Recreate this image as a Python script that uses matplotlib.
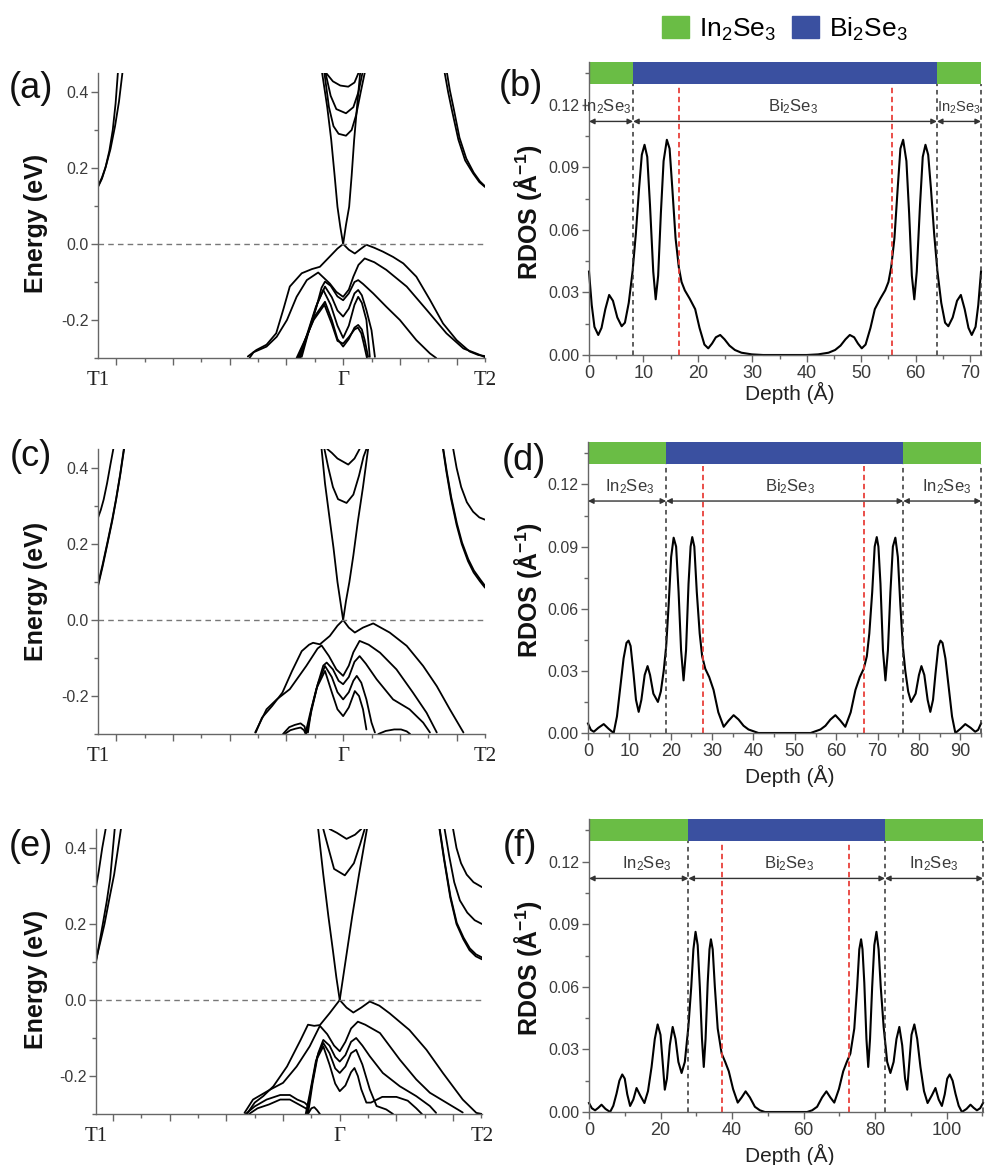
import matplotlib
matplotlib.use('Agg')
import matplotlib.pyplot as plt
from matplotlib.patches import Patch
from matplotlib.ticker import MultipleLocator, FormatStrFormatter
import matplotlib.transforms as mtransforms

plt.rcParams['font.family'] = ['Liberation Sans', 'DejaVu Sans']
plt.rcParams['mathtext.fontset'] = 'custom'
plt.rcParams['mathtext.rm'] = 'Liberation Sans'
plt.rcParams['mathtext.it'] = 'Liberation Sans:italic'
plt.rcParams['mathtext.bf'] = 'Liberation Sans:bold'
plt.rcParams['axes.unicode_minus'] = False

# ------------------------------------------------------------------ DATA
# k-path end points (Gamma = 0)
K_T1 = [-4.32, -4.32, -4.30]
K_T2 = [2.50, 2.50, 2.51]
K_LABELS = ['T1', 'Γ', 'T2']

# band structure (a): list of (k, E) polylines
BANDS_A = [
    ([-4.32, -4.25, -4.19, -4.12, -4.06, -4.01, -3.97], [0.150, 0.172, 0.200, 0.245, 0.300, 0.370, 0.450]),
    ([-4.32, -4.25, -4.18, -4.10, -4.02, -3.95, -3.89], [0.152, 0.175, 0.205, 0.250, 0.310, 0.375, 0.450]),
    ([1.79, 1.85, 1.92, 2.03, 2.15, 2.29, 2.40, 2.50], [0.450, 0.400, 0.350, 0.275, 0.220, 0.186, 0.163, 0.150]),
    ([1.83, 1.88, 1.95, 2.05, 2.17, 2.30, 2.41, 2.50], [0.450, 0.405, 0.355, 0.280, 0.225, 0.188, 0.165, 0.152]),
    ([0.0, -0.05, -0.10, -0.15, -0.21, -0.28, -0.37], [0.0, 0.045, 0.098, 0.18, 0.274, 0.36, 0.45]),
    ([0.0, 0.05, 0.106, 0.15, 0.194, 0.25, 0.30], [0.0, 0.05, 0.098, 0.18, 0.274, 0.37, 0.45]),
    ([-0.33, -0.25, -0.17, -0.08, 0.05, 0.15, 0.23, 0.31, 0.38], [0.45, 0.36, 0.31, 0.29, 0.285, 0.30, 0.34, 0.40, 0.45]),
    ([-0.31, -0.22, -0.12, 0.05, 0.18, 0.27, 0.34], [0.45, 0.39, 0.355, 0.344, 0.36, 0.40, 0.45]),
    ([-0.30, -0.18, -0.05, 0.09, 0.20, 0.27], [0.45, 0.428, 0.417, 0.414, 0.425, 0.45]),
    ([-1.68, -1.53, -1.35, -1.18, -1.05, -0.94, -0.73, -0.55, -0.41, -0.235, -0.10, 0.0, 0.10, 0.206, 0.30, 0.41,
      0.55, 0.70, 0.88, 1.06, 1.29, 1.53, 1.76, 2.0, 2.23, 2.38, 2.5],
     [-0.296, -0.279, -0.265, -0.235, -0.17, -0.112, -0.077, -0.066, -0.060, -0.033, -0.012, 0.0, -0.015, -0.025,
      -0.014, -0.002, -0.010, -0.020, -0.034, -0.051, -0.086, -0.147, -0.209, -0.253, -0.283, -0.292, -0.295]),
    ([-1.65, -1.58, -1.35, -1.17, -0.99, -0.82, -0.64, -0.44, -0.235, -0.12, 0.0, 0.10, 0.18, 0.27, 0.38, 0.55,
      0.76, 1.12, 1.47, 1.82, 2.12, 2.38, 2.5],
     [-0.30, -0.285, -0.270, -0.244, -0.20, -0.139, -0.095, -0.075, -0.104, -0.126, -0.139, -0.12, -0.086, -0.055,
      -0.038, -0.048, -0.068, -0.112, -0.173, -0.235, -0.275, -0.29, -0.298]),
    ([-0.73, -0.62, -0.47, -0.38, -0.32, -0.22, -0.10, 0.0, 0.10, 0.20, 0.265, 0.35, 0.53, 0.76, 1.0, 1.29, 1.53, 1.64],
     [-0.297, -0.237, -0.165, -0.115, -0.099, -0.11, -0.138, -0.148, -0.13, -0.10, -0.095, -0.105, -0.13, -0.165,
      -0.2, -0.253, -0.288, -0.30]),
    ([-0.76, -0.62, -0.45, -0.32, -0.2, -0.1, 0.0, 0.1, 0.2, 0.265, 0.33, 0.41, 0.5, 0.56],
     [-0.30, -0.235, -0.155, -0.112, -0.14, -0.175, -0.191, -0.17, -0.13, -0.121, -0.135, -0.174, -0.227, -0.297]),
    ([-0.78, -0.64, -0.48, -0.35, -0.22, -0.1, 0.0, 0.1, 0.2, 0.265, 0.33, 0.41, 0.47],
     [-0.30, -0.24, -0.165, -0.121, -0.16, -0.215, -0.247, -0.215, -0.16, -0.139, -0.155, -0.2, -0.297]),
    ([-0.80, -0.66, -0.50, -0.32, -0.2, -0.1, 0.0, 0.1, 0.2, 0.265, 0.33, 0.38, 0.44],
     [-0.30, -0.25, -0.19, -0.152, -0.2, -0.25, -0.27, -0.25, -0.22, -0.213, -0.225, -0.253, -0.297]),
    ([-0.82, -0.68, -0.52, -0.33, -0.2, -0.1, 0.0, 0.1, 0.2, 0.26, 0.32, 0.36, 0.42],
     [-0.30, -0.255, -0.2, -0.16, -0.21, -0.255, -0.262, -0.245, -0.225, -0.22, -0.235, -0.26, -0.30]),
]

# band structure (c)
BANDS_C = [
    ([-4.32, -4.27, -4.22, -4.16, -4.10, -4.05], [0.269, 0.29, 0.317, 0.36, 0.41, 0.45]),
    ([-4.32, -4.24, -4.15, -4.07, -4.0, -3.93, -3.86], [0.089, 0.14, 0.203, 0.26, 0.317, 0.38, 0.45]),
    ([-4.32, -4.24, -4.15, -4.07, -4.0, -3.93, -3.865], [0.094, 0.145, 0.207, 0.264, 0.32, 0.383, 0.45]),
    ([1.76, 1.82, 1.90, 2.0, 2.09, 2.2, 2.3, 2.41, 2.5], [0.45, 0.39, 0.32, 0.25, 0.20, 0.155, 0.125, 0.102, 0.085]),
    ([1.765, 1.825, 1.905, 2.005, 2.095, 2.205, 2.305, 2.415, 2.5], [0.45, 0.392, 0.323, 0.254, 0.204, 0.16, 0.13, 0.107, 0.090]),
    ([1.94, 2.0, 2.08, 2.18, 2.29, 2.40, 2.50], [0.45, 0.40, 0.35, 0.31, 0.285, 0.27, 0.264]),
    ([0.0, -0.05, -0.10, -0.17, -0.25, -0.32, -0.38], [0.0, 0.05, 0.10, 0.19, 0.28, 0.36, 0.45]),
    ([0.0, 0.05, 0.11, 0.18, 0.26, 0.35, 0.44], [0.0, 0.05, 0.10, 0.17, 0.26, 0.35, 0.45]),
    ([-0.33, -0.26, -0.18, -0.09, 0.06, 0.18, 0.28, 0.36, 0.41], [0.45, 0.40, 0.35, 0.318, 0.308, 0.33, 0.38, 0.43, 0.45]),
    ([-0.28, -0.2, -0.1, 0.09, 0.2, 0.29], [0.45, 0.44, 0.425, 0.409, 0.425, 0.45]),
    ([-1.54, -1.43, -1.25, -1.07, -0.9, -0.73, -0.60, -0.53, -0.41, -0.235, -0.1, 0.0, 0.1, 0.206, 0.35, 0.53, 0.82,
      1.12, 1.41, 1.65, 1.88, 2.12],
     [-0.296, -0.257, -0.226, -0.191, -0.134, -0.082, -0.065, -0.06, -0.064, -0.042, -0.015, 0.0, -0.02, -0.033,
      -0.02, -0.009, -0.033, -0.068, -0.121, -0.174, -0.235, -0.296]),
    ([-1.55, -1.35, -1.17, -0.94, -0.65, -0.45, -0.38, -0.25, -0.12, 0.0, 0.1, 0.18, 0.29, 0.45, 0.65, 0.94, 1.23,
      1.47, 1.65],
     [-0.296, -0.235, -0.209, -0.182, -0.121, -0.075, -0.067, -0.095, -0.13, -0.147, -0.12, -0.085, -0.055, -0.065,
      -0.086, -0.13, -0.191, -0.244, -0.296]),
    ([-0.62, -0.56, -0.44, -0.35, -0.29, -0.18, -0.08, 0.0, 0.1, 0.2, 0.29, 0.40, 0.59, 0.88, 1.17, 1.41, 1.53],
     [-0.296, -0.235, -0.165, -0.12, -0.112, -0.13, -0.16, -0.169, -0.15, -0.11, -0.095, -0.115, -0.156, -0.209,
      -0.235, -0.27, -0.296]),
    ([-0.64, -0.56, -0.45, -0.32, -0.2, -0.1, 0.0, 0.1, 0.18, 0.24, 0.32, 0.41, 0.5, 0.56],
     [-0.296, -0.24, -0.17, -0.121, -0.15, -0.19, -0.209, -0.19, -0.16, -0.147, -0.165, -0.209, -0.27, -0.296]),
    ([-0.66, -0.58, -0.47, -0.32, -0.2, -0.1, 0.0, 0.1, 0.206, 0.28, 0.35, 0.41],
     [-0.296, -0.245, -0.18, -0.134, -0.19, -0.235, -0.253, -0.23, -0.187, -0.2, -0.235, -0.288]),
    ([-1.06, -0.95, -0.85, -0.75, -0.68, -0.65], [-0.30, -0.282, -0.276, -0.272, -0.28, -0.30]),
    ([-1.03, -0.93, -0.84, -0.75, -0.69, -0.66], [-0.30, -0.29, -0.286, -0.283, -0.29, -0.30]),
    ([0.62, 0.75, 0.9, 1.02, 1.12, 1.18], [-0.30, -0.292, -0.288, -0.288, -0.293, -0.30]),
]

# band structure (e)
BANDS_E = [
    ([-4.30, -4.25, -4.19, -4.13], [0.297, 0.34, 0.40, 0.45]),
    ([-4.30, -4.24, -4.18, -4.11, -4.05, -3.97], [0.10, 0.15, 0.20, 0.26, 0.32, 0.45]),
    ([-4.30, -4.22, -4.15, -4.06, -3.98, -3.92, -3.86], [0.105, 0.155, 0.20, 0.27, 0.33, 0.39, 0.45]),
    ([2.0, 2.06, 2.14, 2.24, 2.36, 2.51], [0.45, 0.40, 0.36, 0.33, 0.31, 0.297]),
    ([1.85, 1.93, 2.02, 2.12, 2.25, 2.38, 2.51], [0.45, 0.38, 0.31, 0.262, 0.23, 0.21, 0.20]),
    ([1.76, 1.84, 1.95, 2.06, 2.18, 2.29, 2.40, 2.51], [0.45, 0.37, 0.27, 0.20, 0.16, 0.131, 0.115, 0.107]),
    ([1.765, 1.845, 1.955, 2.065, 2.185, 2.295, 2.405, 2.51], [0.45, 0.37, 0.272, 0.203, 0.164, 0.136, 0.120, 0.112]),
    ([0.0, -0.06, -0.12, -0.2, -0.29, -0.38], [0.0, 0.06, 0.13, 0.22, 0.33, 0.45]),
    ([0.0, 0.06, 0.13, 0.22, 0.34, 0.48], [0.0, 0.06, 0.13, 0.22, 0.33, 0.45]),
    ([-0.29, -0.2, -0.1, 0.09, 0.25, 0.36, 0.44], [0.45, 0.40, 0.345, 0.328, 0.36, 0.41, 0.45]),
    ([-0.18, -0.05, 0.12, 0.27, 0.38], [0.45, 0.44, 0.424, 0.435, 0.45]),
    ([-1.64, -1.50, -1.35, -1.17, -0.93, -0.69, -0.56, -0.45, -0.35, -0.18, 0.0, 0.12, 0.24, 0.38, 0.53, 0.70, 0.88,
      1.23, 1.53, 1.82, 2.17, 2.41, 2.51],
     [-0.30, -0.27, -0.253, -0.227, -0.175, -0.105, -0.065, -0.068, -0.066, -0.035, 0.0, -0.02, -0.033, -0.02,
      -0.004, -0.015, -0.035, -0.079, -0.131, -0.192, -0.262, -0.297, -0.30]),
    ([-1.68, -1.53, -1.23, -1.0, -0.76, -0.53, -0.35, -0.22, -0.1, 0.0, 0.1, 0.2, 0.32, 0.45, 0.71, 1.06, 1.35, 1.59,
      1.88, 2.17],
     [-0.297, -0.262, -0.236, -0.218, -0.175, -0.122, -0.068, -0.09, -0.12, -0.135, -0.11, -0.075, -0.057, -0.065,
      -0.087, -0.157, -0.209, -0.244, -0.27, -0.296]),
    ([-0.56, -0.48, -0.38, -0.29, -0.18, -0.08, 0.0, 0.1, 0.2, 0.29, 0.4, 0.53, 0.76, 1.06, 1.35, 1.59, 1.7],
     [-0.30, -0.22, -0.14, -0.105, -0.12, -0.15, -0.162, -0.145, -0.11, -0.10, -0.12, -0.148, -0.192, -0.227,
      -0.253, -0.279, -0.297]),
    ([-0.58, -0.5, -0.4, -0.29, -0.18, -0.08, 0.0, 0.1, 0.2, 0.29, 0.4, 0.53, 0.65, 0.82, 0.94],
     [-0.30, -0.23, -0.15, -0.113, -0.14, -0.18, -0.192, -0.175, -0.14, -0.131, -0.17, -0.235, -0.279, -0.288, -0.30]),
    ([-0.6, -0.52, -0.42, -0.29, -0.18, -0.08, 0.0, 0.1, 0.2, 0.26, 0.32, 0.38, 0.47, 0.55, 0.75, 1.0, 1.2, 1.35, 1.45],
     [-0.30, -0.24, -0.16, -0.122, -0.17, -0.22, -0.24, -0.225, -0.19, -0.179, -0.2, -0.235, -0.27, -0.27, -0.255,
      -0.255, -0.265, -0.285, -0.30]),
    ([-1.66, -1.5, -1.29, -1.05, -0.88, -0.75, -0.62, -0.55], [-0.30, -0.28, -0.262, -0.25, -0.25, -0.262, -0.27, -0.28]),
    ([-1.6, -1.45, -1.25, -1.05, -0.88, -0.72, -0.6, -0.55], [-0.30, -0.285, -0.275, -0.262, -0.262, -0.275, -0.285, -0.29]),
    ([-0.56, -0.5, -0.45, -0.4, -0.35], [-0.30, -0.285, -0.282, -0.29, -0.30]),
]

# RDOS (b)
DEPTH_B = [0.0, 0.5, 1.0, 1.7, 2.3, 3.0, 3.7, 4.4, 5.2, 6.0, 6.6, 7.3, 8.0, 8.6, 9.2, 9.7, 10.2, 10.7, 11.2, 11.8,
           12.25, 12.7, 13.2, 13.7, 14.3, 14.8, 15.3, 15.9, 16.5, 17.0, 17.6, 18.5, 19.5, 20.3, 21.2, 21.9, 22.6,
           23.3, 24.1, 24.9, 25.8, 26.8, 28.0, 29.9, 32.0, 34.0, 36.0,
           38.0, 40.0, 42.1, 44.0, 45.2, 46.2, 47.1, 47.9, 48.7, 49.4, 50.1, 50.8, 51.7, 52.5, 53.5, 54.4, 55.0,
           55.5, 56.1, 56.7, 57.2, 57.7, 58.3, 58.8, 59.3, 59.75, 60.2, 60.8, 61.3, 61.8, 62.3, 62.8, 63.4, 64.0,
           64.7, 65.4, 66.0, 66.8, 67.6, 68.3, 69.0, 69.7, 70.3, 71.0, 71.5, 72.0]
RDOS_B = [0.040, 0.024, 0.0135, 0.0096, 0.013, 0.022, 0.0288, 0.026, 0.018, 0.0138, 0.0155, 0.025, 0.040, 0.058,
          0.080, 0.096, 0.1008, 0.095, 0.072, 0.040, 0.0267, 0.038, 0.068, 0.093, 0.1032, 0.099, 0.080, 0.056,
          0.042, 0.035, 0.031, 0.027, 0.022, 0.013, 0.005, 0.0032, 0.0055, 0.0085, 0.0096, 0.0075, 0.0045, 0.0024,
          0.0011, 0.0003, 0.0, 0.0, 0.0,
          0.0, 0.0, 0.0003, 0.0011, 0.0024, 0.0045, 0.0075, 0.0096, 0.0085, 0.0055, 0.0032, 0.005, 0.013, 0.022,
          0.027, 0.031, 0.035, 0.042, 0.056, 0.080, 0.099, 0.1032, 0.093, 0.068, 0.038, 0.0267, 0.040, 0.072,
          0.095, 0.1008, 0.096, 0.080, 0.058, 0.040, 0.025, 0.0155, 0.0138, 0.018, 0.026, 0.0288, 0.022, 0.013,
          0.0096, 0.0135, 0.024, 0.040]

# RDOS (d)
DEPTH_D = [0.0, 0.7, 1.4, 2.5, 3.8, 5.0, 6.2, 7.0, 7.8, 8.6, 9.3, 9.8, 10.3, 11.0, 11.6, 12.25, 12.9, 13.7, 14.4,
           15.0, 15.8, 16.9, 17.6, 18.3, 18.9, 19.5, 20.1, 20.7, 21.3, 21.9, 22.5, 23.1, 23.7, 24.3, 24.8, 25.2,
           25.7, 26.3, 27.0, 27.6, 28.35, 29.3, 30.35, 31.5, 32.8, 34.0, 35.2, 36.4, 37.6, 38.8, 41.2, 44.0, 47.5,
           51.0, 53.8, 56.2, 57.4, 58.6, 59.8, 61.0, 62.2, 63.5, 64.65, 65.7, 66.65, 67.4, 68.0, 68.7, 69.3, 69.8,
           70.2, 70.7, 71.3, 71.9, 72.5, 73.1, 73.7, 74.3, 74.9, 75.5, 76.1, 76.7, 77.4, 78.1, 79.2, 80.0, 80.6,
           81.3, 82.1, 82.75, 83.4, 84.0, 84.7, 85.2, 85.7, 86.4, 87.2, 88.0, 88.8, 90.0, 91.2, 92.5, 93.6, 94.3, 95.0]
RDOS_D = [0.0046, 0.0015, 0.0006, 0.0025, 0.0043, 0.002, 0.0, 0.008, 0.022, 0.036, 0.0435, 0.0446, 0.042, 0.0287,
          0.016, 0.0102, 0.016, 0.028, 0.0323, 0.028, 0.019, 0.015, 0.020, 0.030, 0.042, 0.062, 0.085, 0.0943,
          0.090, 0.068, 0.040, 0.0254, 0.040, 0.072, 0.090, 0.0946, 0.090, 0.068, 0.048, 0.037, 0.031, 0.027,
          0.0208, 0.010, 0.003, 0.006, 0.0086, 0.0065, 0.0035, 0.0017, 0.0, 0.0, 0.0,
          0.0, 0.0, 0.0017, 0.0035, 0.0065, 0.0086, 0.006, 0.003, 0.010, 0.0208, 0.027, 0.031, 0.037, 0.048, 0.068,
          0.090, 0.0946, 0.090, 0.072, 0.040, 0.0254, 0.040, 0.068, 0.090, 0.0943, 0.085, 0.062, 0.042, 0.030,
          0.020, 0.015, 0.019, 0.028, 0.0323, 0.028, 0.016, 0.0102, 0.016, 0.0287, 0.042, 0.0446, 0.0435, 0.036,
          0.022, 0.008, 0.0, 0.002, 0.0043, 0.0025, 0.0006, 0.0015, 0.0046]

# RDOS (f)
DEPTH_F = [0.0, 0.8, 1.7, 2.6, 3.5, 4.6, 5.9, 6.8, 7.7, 8.5, 9.3, 10.0, 10.7, 11.5, 12.4, 13.3, 14.3, 15.5, 16.5,
           17.5, 18.4, 19.2, 20.0, 20.6, 21.2, 21.8, 22.6, 23.4, 24.2, 25.0, 25.9, 26.8, 27.8, 28.6, 29.2, 29.8,
           30.4, 31.0, 31.6, 32.1, 32.6, 33.2, 33.7, 34.1, 34.6, 35.2, 36.0, 37.1, 38.1, 39.1, 40.3, 41.6, 42.7,
           43.8, 45.0, 46.4, 47.8, 49.2, 52.0, 55.1,
           58.2, 61.0, 62.4, 63.8, 65.2, 66.4, 67.5, 68.6, 69.9, 71.1, 72.1, 73.1, 74.2, 75.0, 75.6, 76.1, 76.5,
           77.0, 77.6, 78.1, 78.6, 79.2, 79.8, 80.4, 81.0, 81.6, 82.4, 83.4, 84.3, 85.2, 86.0, 86.8, 87.6, 88.4,
           89.0, 89.6, 90.2, 91.0, 91.8, 92.7, 93.7, 94.7, 95.9, 96.9, 97.8, 98.7, 99.5, 100.2, 100.9, 101.7,
           102.5, 103.4, 104.3, 105.6, 106.7, 107.6, 108.5, 109.4, 110.2]
RDOS_F = [0.0043, 0.0018, 0.0008, 0.002, 0.0035, 0.0015, 0.0, 0.003, 0.0088, 0.015, 0.018, 0.016, 0.0085, 0.0029,
          0.006, 0.0115, 0.008, 0.0043, 0.010, 0.0216, 0.035, 0.042, 0.037, 0.024, 0.0107, 0.016, 0.032, 0.0408,
          0.035, 0.024, 0.0187, 0.024, 0.041, 0.060, 0.078, 0.0864, 0.080, 0.060, 0.035, 0.0216, 0.035, 0.062,
          0.078, 0.0828, 0.078, 0.060, 0.040, 0.028, 0.024, 0.0195, 0.011, 0.0045, 0.007, 0.0099, 0.007, 0.0025,
          0.0008, 0.0, 0.0, 0.0,
          0.0, 0.0, 0.0008, 0.0025, 0.007, 0.0099, 0.007, 0.0045, 0.011, 0.0195, 0.024, 0.028, 0.040, 0.060,
          0.078, 0.0828, 0.078, 0.062, 0.035, 0.0216, 0.035, 0.060, 0.080, 0.0864, 0.078, 0.060, 0.041, 0.024,
          0.0187, 0.024, 0.035, 0.0408, 0.032, 0.016, 0.0107, 0.024, 0.037, 0.042, 0.035, 0.0216, 0.010, 0.0043,
          0.008, 0.0115, 0.006, 0.0029, 0.0085, 0.016, 0.018, 0.015, 0.0088, 0.003, 0.0, 0.0015, 0.0035, 0.002,
          0.0008, 0.0018, 0.0043]

# layer boundaries (Å), layer names, interface markers
LAYERS_B = [0.0, 8.1, 63.9, 72.0]
LAYERS_D = [0.0, 18.9, 76.2, 95.0]
LAYERS_F = [0.0, 27.8, 82.8, 110.2]
LAYER_NAMES = ['In$_2$Se$_3$', 'Bi$_2$Se$_3$', 'In$_2$Se$_3$']
RED_B = [16.5, 55.6]
RED_D = [27.9, 66.7]
RED_F = [37.3, 72.6]
LABEL_X_B = [3.2, 37.4, 68.0]
LABEL_X_D = [10.0, 48.9, 86.6]
LABEL_X_F = [16.1, 55.9, 96.5]
LABEL_FS_B = [12, 12, 10.5]
LABEL_FS_D = [12, 12, 12]
LABEL_FS_F = [12, 12, 12]
PANEL_LETTERS = ['(a)', '(b)', '(c)', '(d)', '(e)', '(f)']

GREEN = '#6abd45'
BLUE = '#3a50a0'
RED = '#e8403a'
GRAY = '#666666'
TXT = '#3a3a3a'

W, H = 985, 1165
fig = plt.figure(figsize=(W / 100, H / 100), dpi=100)


def px_axes(l, t, r, b):
    return fig.add_axes([l / W, 1 - b / H, (r - l) / W, (b - t) / H])


def style_spines(ax):
    for s in ['top', 'right']:
        ax.spines[s].set_visible(False)
    for s in ['left', 'bottom']:
        ax.spines[s].set_color(GRAY)
        ax.spines[s].set_linewidth(1.0)


def band_panel(box, bands, kt1, kt2):
    ax = px_axes(*box)
    for k, e in bands:
        ax.plot(k, e, color='k', lw=1.3, solid_joinstyle='round', solid_capstyle='round')
    ax.axhline(0.0, color='#777777', lw=1.0, ls=(0, (4, 3)))
    ax.set_xlim(kt1, kt2)
    ax.set_ylim(-0.30, 0.45)
    style_spines(ax)
    ax.xaxis.set_major_locator(MultipleLocator(1.0))
    ax.xaxis.set_minor_locator(MultipleLocator(0.5))
    ax.xaxis.set_major_formatter(plt.NullFormatter())
    ax.yaxis.set_major_locator(MultipleLocator(0.2))
    ax.yaxis.set_minor_locator(MultipleLocator(0.1))
    ax.yaxis.set_major_formatter(FormatStrFormatter('%.1f'))
    ax.tick_params(which='major', direction='out', length=5, width=1, color=GRAY,
                   labelsize=11.5, labelcolor=TXT, pad=2)
    ax.tick_params(which='minor', direction='out', length=3, width=1, color=GRAY)
    trans = mtransforms.blended_transform_factory(ax.transData, ax.transAxes)
    for xk, lab in zip([kt1, 0.0, kt2], K_LABELS):
        ax.text(xk, -0.08, lab, transform=trans, ha='center', va='center',
                family='Liberation Serif', fontsize=15, color='#222222')
    return ax


def rdos_panel(box, depth, rdos, layers, reds, label_x, label_fs, xmaj, xmin):
    ax = px_axes(*box)
    ax.plot(depth, rdos, color='k', lw=1.5, clip_on=False, solid_joinstyle='round')
    ax.set_xlim(layers[0], layers[-1])
    ax.set_ylim(0.0, 0.1405)
    style_spines(ax)
    # composition bar
    lefts = layers[:-1]
    widths = [b - a for a, b in zip(layers[:-1], layers[1:])]
    ax.barh([0.13525] * 3, widths, left=lefts, height=0.0105, color=[GREEN, BLUE, GREEN],
            align='center', clip_on=False)
    ax.vlines(layers[1:], 0, 0.130, colors='#333333', linestyles=(0, (3, 2.5)), lw=1.1, clip_on=False)
    ax.vlines(reds, 0, 0.129, colors=RED, linestyles=(0, (3, 2)), lw=1.3)
    for a, b in zip(layers[:-1], layers[1:]):
        ax.annotate('', xy=(b, 0.112), xytext=(a, 0.112),
                    arrowprops=dict(arrowstyle='<|-|>', color='#333333', lw=1.0,
                                    mutation_scale=8, shrinkA=0, shrinkB=0))
    for xl, name, fs in zip(label_x, LAYER_NAMES, label_fs):
        ax.text(xl, 0.1167, name, ha='center', va='baseline', fontsize=fs, color=TXT)
    ax.xaxis.set_major_locator(MultipleLocator(xmaj))
    ax.xaxis.set_minor_locator(MultipleLocator(xmin))
    ax.yaxis.set_minor_locator(MultipleLocator(0.015))
    ax.yaxis.set_major_formatter(FormatStrFormatter('%.2f'))
    ax.set_yticks([0.0, 0.03, 0.06, 0.09, 0.12])
    ax.tick_params(which='major', direction='out', length=5, width=1, color=GRAY, labelcolor=TXT, pad=2)
    ax.tick_params(axis='y', which='major', labelsize=11.5)
    ax.tick_params(axis='x', which='major', labelsize=13)
    ax.tick_params(which='minor', direction='out', length=3, width=1, color=GRAY)
    return ax


band_panel((98, 73, 485, 358), BANDS_A, K_T1[0], K_T2[0])
band_panel((98, 449, 485, 734), BANDS_C, K_T1[1], K_T2[1])
band_panel((96, 829, 482, 1114), BANDS_E, K_T1[2], K_T2[2])

rdos_panel((589, 62, 981, 355), DEPTH_B, RDOS_B, LAYERS_B, RED_B, LABEL_X_B, LABEL_FS_B, 10, 5)
rdos_panel((588, 442, 981, 733), DEPTH_D, RDOS_D, LAYERS_D, RED_D, LABEL_X_D, LABEL_FS_D, 10, 5)
rdos_panel((589, 819, 983, 1112), DEPTH_F, RDOS_F, LAYERS_F, RED_F, LABEL_X_F, LABEL_FS_F, 20, 10)

# axis titles
for yc in [223, 591, 979]:
    fig.text(36 / W, 1 - yc / H, 'Energy (eV)', rotation=90, ha='center', va='center',
             fontsize=18, fontweight='bold', color='#111111')
for yc in [212, 590, 968]:
    fig.text(528 / W, 1 - yc / H, r'RDOS (Å$^{\mathbf{-1}}$)', rotation=90, ha='center', va='center',
             fontsize=18, fontweight='bold', color='#111111')
for yc in [393, 776, 1155]:
    fig.text(790 / W, 1 - yc / H, 'Depth (Å)', ha='center', va='center', fontsize=15, color='#222222')

# panel letters
for (xc, yc), lab in zip([(31, 88), (521, 87), (31, 456), (524, 460), (31, 846), (520, 846)], PANEL_LETTERS):
    fig.text(xc / W, 1 - yc / H, lab, ha='center', va='center', fontsize=26, color='#111111')

# legend
handles = [Patch(facecolor=GREEN, edgecolor=GREEN), Patch(facecolor=BLUE, edgecolor=BLUE)]
fig.legend(handles, ['In$_2$Se$_3$', 'Bi$_2$Se$_3$'], loc='center', bbox_to_anchor=(785 / W, 1 - 29 / H),
           ncol=2, frameon=False, fontsize=19, handlelength=1.0, handleheight=0.9,
           handletextpad=0.4, columnspacing=0.6, borderaxespad=0, borderpad=0)

fig.savefig('out.png', dpi=100)
